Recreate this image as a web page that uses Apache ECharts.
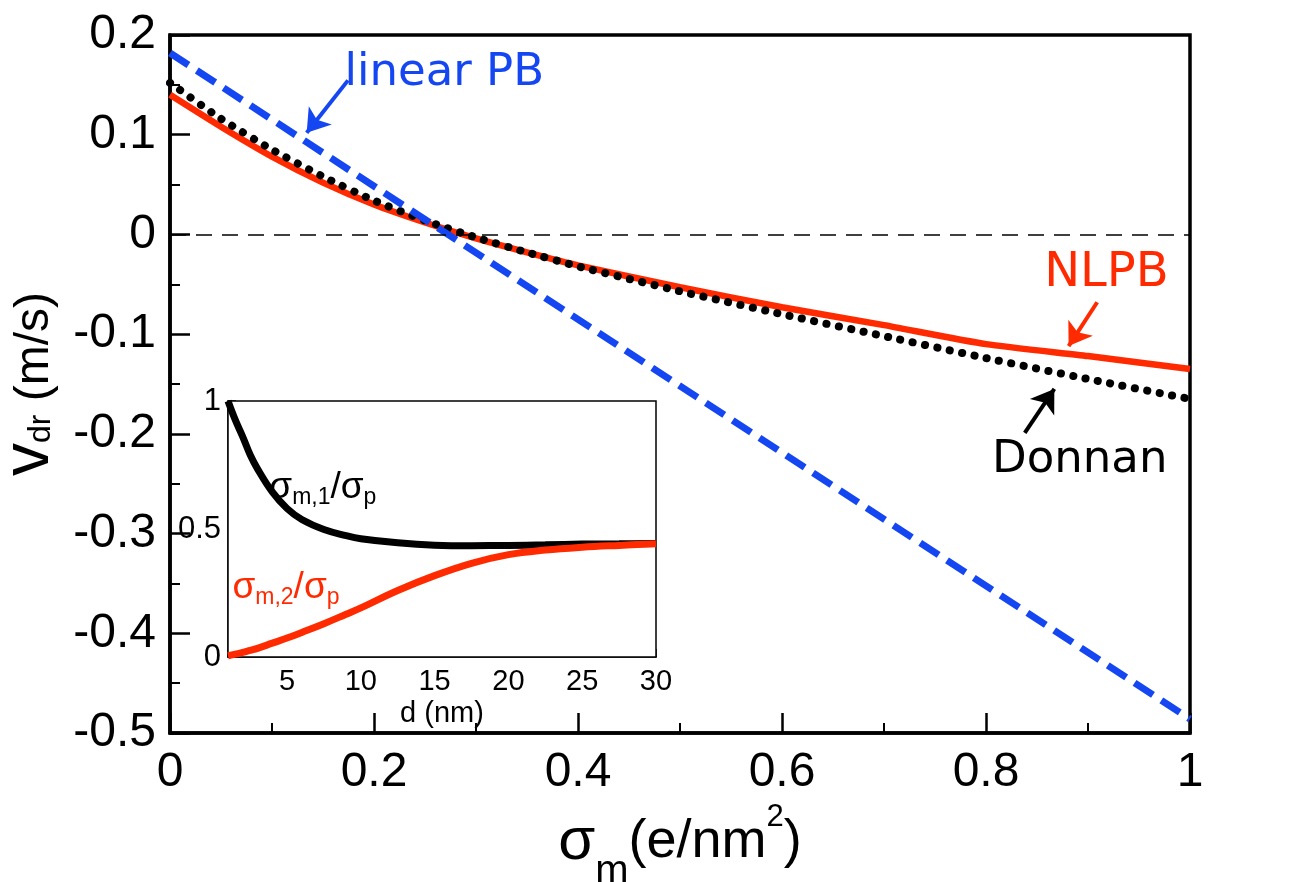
<!DOCTYPE html>
<html>
<head>
<meta charset="utf-8">
<script src="https://cdn.jsdelivr.net/npm/echarts@6/dist/echarts.min.js"></script>
<style>
  html, body { margin: 0; padding: 0; background: #fff; }
  #chart { width: 1303px; height: 882px; }
</style>
</head>
<body>
<div id="chart"></div>
<script>
// main panel: drift velocity vs membrane charge
const sigmaM = [0, 0.05, 0.1, 0.15, 0.2, 0.25, 0.3, 0.35, 0.4, 0.5, 0.6, 0.7, 0.8, 0.9, 1.0];
const nlpb = [0.140, 0.108, 0.078, 0.052, 0.030, 0.012, -0.004, -0.018, -0.031, -0.053, -0.073, -0.091, -0.110, -0.122, -0.135];
const donnan = [0.152, 0.116, 0.085, 0.058, 0.034, 0.014, -0.003, -0.018, -0.032, -0.057, -0.080, -0.102, -0.124, -0.145, -0.165];
const linearX = [0, 1];
const linearPB = [0.182, -0.486];

// inset: charge split vs distance
const insetD = [1, 1.5, 2, 2.5, 3, 4, 5, 6, 7.5, 9, 10, 12.5, 15, 17.5, 20, 22.5, 25, 27.5, 30];
const sigma1 = [1.0, 0.925, 0.86, 0.79, 0.735, 0.645, 0.58, 0.537, 0.498, 0.474, 0.462, 0.446, 0.437, 0.435, 0.436, 0.438, 0.441, 0.442, 0.443];
const sigma2 = [0.005, 0.011, 0.018, 0.026, 0.034, 0.054, 0.074, 0.096, 0.13, 0.167, 0.192, 0.26, 0.318, 0.366, 0.4, 0.418, 0.429, 0.436, 0.442];
const insetLabelTicks = [5, 10, 15, 20, 25, 30];
const insetMinorTicks = [7.5, 12.5, 17.5, 22.5, 27.5];

const RED = '#ff2a00';
const BLUE = '#1446f2';
const FONT = 'Liberation Sans, Arial, Helvetica, sans-serif';
const ANNOT_FONT = 'DejaVu Sans, sans-serif';

const pairs = (xs, ys) => xs.map((x, i) => [x, ys[i]]);

const chart = echarts.init(document.getElementById('chart'));

chart.setOption({
  animation: false,
  backgroundColor: '#fff',
  grid: [
    { left: 170, top: 35, width: 1020, height: 698, outerBoundsMode: 'none', containLabel: false,
      show: true, borderColor: '#000', borderWidth: 3.5, z: 0 },
    { left: 228, top: 401, width: 428, height: 256, outerBoundsMode: 'none', containLabel: false,
      show: true, borderColor: '#000', borderWidth: 1.5, backgroundColor: '#fff', z: 5 }
  ],
  xAxis: [
    {
      gridIndex: 0, type: 'value', min: 0, max: 1, interval: 0.2,
      axisLine: { onZero: false, lineStyle: { color: '#000', width: 3.5 } },
      axisTick: { inside: true, length: 20, lineStyle: { color: '#000', width: 2.5 } },
      minorTick: { show: true, splitNumber: 2, length: 10, lineStyle: { color: '#000', width: 2 } },
      splitLine: { show: false },
      axisLabel: { fontSize: 48, margin: 16, color: '#000', fontFamily: FONT },
      name: '{s|σ}{sub|m}{n|(e/nm}{sup|2}{n|)}',
      nameLocation: 'middle', nameGap: 55,
      nameTextStyle: {
        color: '#000', fontFamily: FONT,
        rich: {
          s: { fontSize: 60, fontFamily: FONT, color: '#000' },
          sub: { fontSize: 40, fontFamily: FONT, color: '#000', padding: [60, 0, 0, 0] },
          n: { fontSize: 54, fontFamily: FONT, color: '#000' },
          sup: { fontSize: 31, fontFamily: FONT, color: '#000', padding: [0, 0, 50, 0] }
        }
      }
    },
    {
      gridIndex: 1, type: 'value', min: 1, max: 30,
      axisLine: { onZero: false, lineStyle: { color: '#000', width: 1.5 } },
      axisTick: { inside: true, length: 8, customValues: insetLabelTicks, lineStyle: { color: '#000', width: 1.5 } },
      splitLine: { show: false },
      axisLabel: { fontSize: 29, margin: 10, color: '#000', fontFamily: FONT, customValues: insetLabelTicks },
      name: 'd (nm)', nameLocation: 'middle', nameGap: 42,
      nameTextStyle: { fontSize: 29, color: '#000', fontFamily: FONT }
    },
    {
      gridIndex: 1, type: 'value', min: 1, max: 30,
      axisLine: { show: false, onZero: false },
      axisTick: { inside: true, length: 4, customValues: insetMinorTicks, lineStyle: { color: '#000', width: 1.2 } },
      splitLine: { show: false },
      axisLabel: { show: false }
    }
  ],
  yAxis: [
    {
      gridIndex: 0, type: 'value', min: -0.5, max: 0.2, interval: 0.1,
      axisLine: { onZero: false, lineStyle: { color: '#000', width: 3.5 } },
      axisTick: { inside: true, length: 20, lineStyle: { color: '#000', width: 2.5 } },
      minorTick: { show: true, splitNumber: 2, length: 10, lineStyle: { color: '#000', width: 2 } },
      splitLine: { show: false },
      axisLabel: { fontSize: 48, margin: 14, color: '#000', fontFamily: FONT },
      name: '{v|v}{sub|dr}{n| (m/s)}',
      nameLocation: 'middle', nameGap: 106,
      nameTextStyle: {
        color: '#000', fontFamily: FONT,
        rich: {
          v: { fontSize: 66, fontFamily: FONT, color: '#000' },
          sub: { fontSize: 32, fontFamily: FONT, color: '#000', padding: [24, 0, 0, 0] },
          n: { fontSize: 48, fontFamily: FONT, color: '#000', padding: [10, 0, 0, 0] }
        }
      }
    },
    {
      gridIndex: 1, type: 'value', min: 0, max: 1, interval: 0.5,
      axisLine: { onZero: false, lineStyle: { color: '#000', width: 1.5 } },
      axisTick: { inside: true, length: 8, lineStyle: { color: '#000', width: 1.5 } },
      minorTick: { show: true, splitNumber: 2, length: 4, lineStyle: { color: '#000', width: 1.2 } },
      splitLine: { show: false },
      axisLabel: { fontSize: 31, margin: 7, color: '#000', fontFamily: FONT }
    }
  ],
  series: [
    {
      name: 'zero', type: 'line', xAxisIndex: 0, yAxisIndex: 0, data: [], z: 1,
      markLine: {
        silent: true, symbol: ['none', 'none'], label: { show: false },
        lineStyle: { color: '#000', width: 1.5, type: [16, 10] },
        data: [{ yAxis: 0 }]
      }
    },
    {
      name: 'NLPB', type: 'line', xAxisIndex: 0, yAxisIndex: 0, z: 2,
      data: pairs(sigmaM, nlpb), showSymbol: false, smooth: 0.2,
      lineStyle: { color: RED, width: 6.5 },
      markLine: {
        silent: true, symbol: ['none', 'arrow'], symbolSize: 22, label: { show: false },
        lineStyle: { color: RED, width: 4, type: 'solid' },
        data: [[{ coord: [0.909, -0.068] }, { coord: [0.881, -0.112] }]]
      }
    },
    {
      name: 'Donnan', type: 'line', xAxisIndex: 0, yAxisIndex: 0, z: 3,
      data: pairs(sigmaM, donnan), showSymbol: false, smooth: 0.2,
      lineStyle: { color: '#000', width: 8, type: [0.1, 12.5], cap: 'round' },
      markLine: {
        silent: true, symbol: ['none', 'arrow'], symbolSize: 22, label: { show: false },
        lineStyle: { color: '#000', width: 4, type: 'solid', cap: 'butt' },
        data: [[{ coord: [0.838, -0.199] }, { coord: [0.867, -0.155] }]]
      }
    },
    {
      name: 'linear PB', type: 'line', xAxisIndex: 0, yAxisIndex: 0, z: 4,
      data: pairs(linearX, linearPB), showSymbol: false,
      lineStyle: { color: BLUE, width: 7, type: [22, 10] },
      markLine: {
        silent: true, symbol: ['none', 'arrow'], symbolSize: 22, label: { show: false },
        lineStyle: { color: BLUE, width: 4, type: 'solid' },
        data: [[{ coord: [0.1745, 0.1545] }, { coord: [0.134, 0.102] }]]
      }
    },
    {
      name: 'sigma1', type: 'line', xAxisIndex: 1, yAxisIndex: 1, z: 6,
      data: pairs(insetD, sigma1), showSymbol: false, smooth: 0.4,
      lineStyle: { color: '#000', width: 7 }
    },
    {
      name: 'sigma2', type: 'line', xAxisIndex: 1, yAxisIndex: 1, z: 6,
      data: pairs(insetD, sigma2), showSymbol: false, smooth: 0.4,
      lineStyle: { color: RED, width: 7 }
    }
  ]
});

// text labels, anchored in data coordinates
const mainNotes = [
  { text: 'linear PB', at: [0.171, 0.162], color: BLUE, size: 45 },
  { text: 'NLPB', at: [0.857, -0.039], color: RED, size: 48 },
  { text: 'Donnan', at: [0.806, -0.227], color: '#000', size: 45 }
];
const insetNotes = [
  { text: '{s|σ}{b|m,1}{s|/σ}{b|p}', at: [3.8, 0.66], color: '#000' },
  { text: '{s|σ}{b|m,2}{s|/σ}{b|p}', at: [1.3, 0.27], color: RED }
];

function richFor(color) {
  return {
    s: { fontSize: 37, fontFamily: FONT, fill: color },
    b: { fontSize: 23, fontFamily: FONT, fill: color, padding: [20, 0, 0, 0] }
  };
}

const graphics = [];
mainNotes.forEach(n => {
  const p = chart.convertToPixel({ gridIndex: 0 }, n.at);
  graphics.push({
    type: 'text', x: p[0], y: p[1], z: 20,
    style: { text: n.text, fill: n.color, fontSize: n.size, fontFamily: ANNOT_FONT, verticalAlign: 'middle', align: 'left' }
  });
});
insetNotes.forEach(n => {
  const p = chart.convertToPixel({ gridIndex: 1 }, n.at);
  graphics.push({
    type: 'text', x: p[0], y: p[1], z: 20,
    style: { text: n.text, fill: n.color, verticalAlign: 'middle', align: 'left', rich: richFor(n.color) }
  });
});
chart.setOption({ graphic: graphics });
</script>
</body>
</html>
